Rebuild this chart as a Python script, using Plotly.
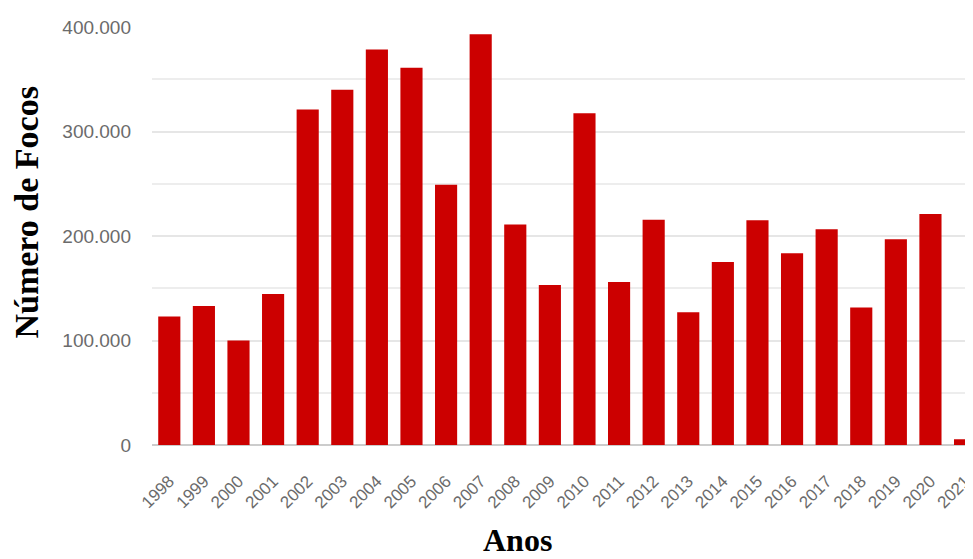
import plotly.graph_objects as go

anos = ["1998", "1999", "2000", "2001", "2002", "2003", "2004", "2005", "2006", "2007",
        "2008", "2009", "2010", "2011", "2012", "2013", "2014", "2015", "2016", "2017",
        "2018", "2019", "2020", "2021"]
focos = [123000, 133000, 100000, 144500, 321000, 340000, 378500, 361000, 249000, 393000,
         211000, 153000, 317500, 156000, 215500, 127000, 175000, 215000, 183500, 206500,
         131500, 197000, 221000, 5500]
y_ticks = [0, 100000, 200000, 300000, 400000]
y_tick_labels = ["0", "100.000", "200.000", "300.000", "400.000"]

fig = go.Figure(go.Bar(x=anos, y=focos, marker=dict(color="#CC0000", line=dict(width=0))))

# page body has an 8px default margin, so the figure is offset by 8px
W, H = 965, 551
L, R, T, B = 144, 0, 19, 114

fig.update_layout(
    width=W, height=H,
    margin=dict(l=L, r=R, t=T, b=B, autoexpand=False),
    paper_bgcolor="white", plot_bgcolor="white",
    bargap=0.36,
    showlegend=False,
    font=dict(family="Liberation Sans, Arial", color="#6b6b6b"),
    xaxis=dict(
        type="category",
        range=[-0.5, 23.23],
        tickangle=-45,
        tickfont=dict(size=17, color="#6b6b6b"),
        showgrid=False, showline=False, ticks="",
        ticklabelstandoff=22,
        automargin=False,
    ),
    yaxis=dict(
        range=[0, 400000],
        tickvals=y_ticks, ticktext=y_tick_labels,
        tickfont=dict(size=19, color="#6b6b6b"),
        showgrid=True, gridcolor="#e6e6e6", gridwidth=1.5,
        minor=dict(dtick=50000, tick0=0, showgrid=True, gridcolor="#ededed", gridwidth=1.5),
        zeroline=True, zerolinecolor="#cccccc", zerolinewidth=2,
        ticks="", ticklabelstandoff=20,
        showline=False,
        automargin=False,
    ),
    annotations=[
        dict(text="<b>Número de Focos</b>", xref="paper", yref="paper",
             x=-0.153, y=0.557, textangle=-90, showarrow=False,
             xanchor="center", yanchor="middle",
             font=dict(family="Liberation Serif, Times New Roman", size=34, color="black")),
        dict(text="<b>Anos</b>", xref="paper", yref="paper",
             x=0.445, y=-0.228, showarrow=False,
             xanchor="center", yanchor="middle",
             font=dict(family="Liberation Serif, Times New Roman", size=32, color="black")),
    ],
)

fig.write_html("out.html")
